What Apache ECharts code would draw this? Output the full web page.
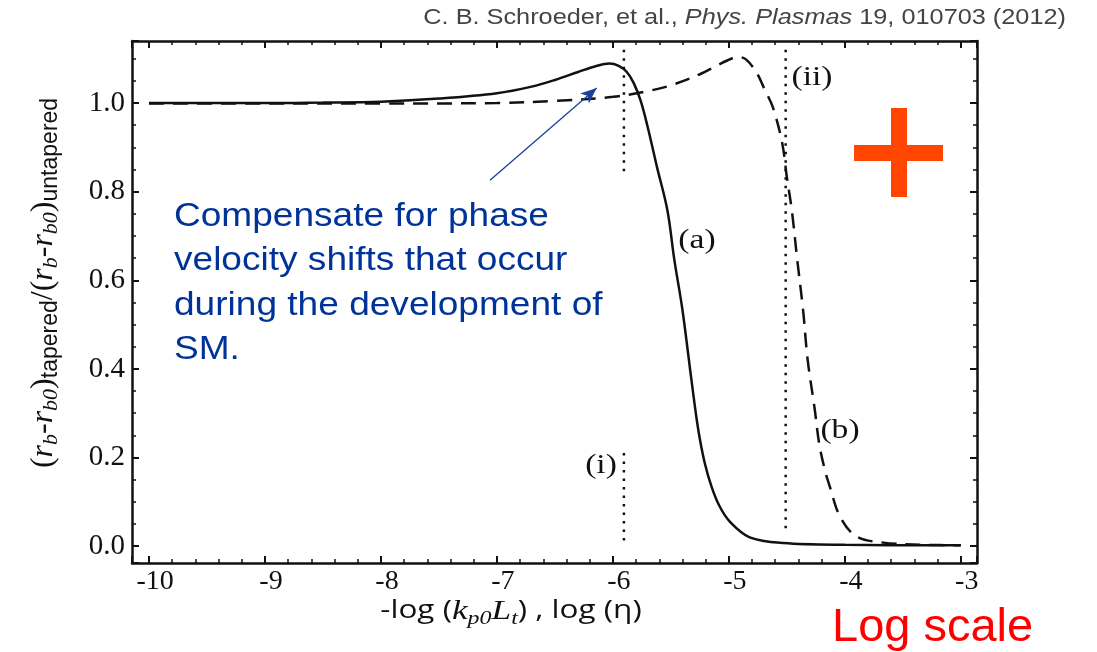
<!DOCTYPE html>
<html>
<head>
<meta charset="utf-8">
<title>tapered / untapered</title>
<script src="https://cdn.jsdelivr.net/npm/echarts@6/dist/echarts.min.js"></script>
<style>
  html, body { margin: 0; padding: 0; background: #fff; }
  #chart { width: 1097px; height: 652px; }
</style>
</head>
<body>
<div id="chart"></div>
<script>
// curve (a): solid, -log(kp0 Lt)
const curveA = [
  [-10.0, 1.0], [-9.0, 1.0], [-8.5, 1.001], [-8.0, 1.003], [-7.5, 1.01],
  [-7.0, 1.022], [-6.7, 1.037], [-6.5, 1.052], [-6.3, 1.07], [-6.15, 1.083],
  [-6.03, 1.089], [-5.95, 1.084], [-5.88, 1.07], [-5.82, 1.045], [-5.76, 1.005],
  [-5.70, 0.946], [-5.62, 0.856], [-5.53, 0.758], [-5.47, 0.646], [-5.40, 0.533],
  [-5.32, 0.37], [-5.265, 0.265], [-5.21, 0.19], [-5.15, 0.135], [-5.08, 0.09],
  [-4.99, 0.055], [-4.82, 0.02], [-4.53, 0.007], [-4.0, 0.003], [-3.0, 0.002]
]
// curve (b): dashed, log(eta)
const curveB = [
  [-10.0, 0.999], [-9.0, 0.999], [-8.0, 0.999], [-7.0, 1.0], [-6.5, 1.005],
  [-6.0, 1.014], [-5.7, 1.027], [-5.5, 1.04], [-5.25, 1.065], [-5.1, 1.085],
  [-4.98, 1.1], [-4.92, 1.104], [-4.85, 1.098], [-4.76, 1.068], [-4.69, 1.03],
  [-4.62, 0.99], [-4.54, 0.91], [-4.50, 0.833], [-4.457, 0.758], [-4.41, 0.646],
  [-4.36, 0.533], [-4.32, 0.42], [-4.26, 0.31], [-4.22, 0.23], [-4.17, 0.17],
  [-4.13, 0.135], [-4.04, 0.066], [-3.9, 0.022], [-3.67, 0.008], [-3.3, 0.003],
  [-3.0, 0.002]
]
// dotted guides (i) and (ii)
const guideI_top = [[-5.905, 1.12], [-5.905, 0.845]]
const guideI_bottom = [[-5.905, 0.21], [-5.905, 0.0]]
const guideII = [[-4.51, 1.12], [-4.51, 0.03]]

// annotation arrow (data coords)
const arrowFrom = [-7.06, 0.826]
const arrowTo = [-6.14, 1.034]

const X_MIN = -10.147, X_MAX = -2.86
const Y_MIN = -0.038, Y_MAX = 1.14

const serif = '"Liberation Serif", "DejaVu Serif", serif'
const sans = '"Liberation Sans", Arial, sans-serif'
const ink = '#111'

function xAxisOf (position, showLabel) {
  return {
    type: 'value', position: position, min: X_MIN, max: X_MAX, splitNumber: 7,
    axisLine: { show: true, onZero: false, lineStyle: { color: ink, width: 2.5 } },
    axisTick: { show: true, inside: true, length: 7, lineStyle: { color: ink, width: 2 } },
    minorTick: { show: true, splitNumber: 5, length: 4, lineStyle: { color: ink, width: 1.5 } },
    splitLine: { show: false },
    axisLabel: {
      show: showLabel, showMinLabel: false, showMaxLabel: false,
      fontFamily: serif, fontSize: 28, color: ink, margin: 5, padding: [0, 0, 0, 12],
      formatter: v => String(Math.round(v))
    }
  }
}

function yAxisOf (position, showLabel) {
  return {
    type: 'value', position: position, min: Y_MIN, max: Y_MAX, splitNumber: 6,
    axisLine: { show: true, onZero: false, lineStyle: { color: ink, width: 2.5 } },
    axisTick: { show: true, inside: true, length: 7, lineStyle: { color: ink, width: 2 } },
    minorTick: { show: true, splitNumber: 4, length: 4, lineStyle: { color: ink, width: 1.5 } },
    splitLine: { show: false },
    axisLabel: {
      show: showLabel, showMinLabel: false, showMaxLabel: false,
      fontFamily: serif, fontSize: 29, color: ink, margin: 7,
      formatter: v => v.toFixed(1)
    }
  }
}

function guide (data) {
  return {
    type: 'line', data: data, symbol: 'none', silent: true,
    lineStyle: { color: ink, width: 2.5, type: [2.5, 6] }
  }
}

function label (text, x, y) {
  return {
    type: 'text', x: x, y: y, scaleX: 1.2,
    style: { text: text, fontFamily: serif, fontSize: 28, fill: ink, align: 'center', verticalAlign: 'middle' }
  }
}

const chart = echarts.init(document.getElementById('chart'))
chart.setOption({
  animation: false,
  backgroundColor: '#fff',
  grid: { left: 132, right: 120, top: 41, bottom: 89, outerBoundsMode: 'none' },
  xAxis: [xAxisOf('bottom', true), xAxisOf('top', false)],
  yAxis: [yAxisOf('left', true), yAxisOf('right', false)],
  series: [
    {
      name: '(a)', type: 'line', data: curveA, symbol: 'none', smooth: 0.35,
      lineStyle: { color: ink, width: 2.5 },
      markLine: {
        silent: true, symbol: ['none', 'arrow'], symbolSize: [10, 16],
        lineStyle: { color: '#1c3f9a', width: 1.3, type: 'solid' },
        label: { show: false },
        data: [[{ coord: arrowFrom }, { coord: arrowTo }]]
      }
    },
    {
      name: '(b)', type: 'line', data: curveB, symbol: 'none', smooth: 0.35,
      lineStyle: { color: ink, width: 2.5, type: [15, 9] }
    },
    guide(guideI_top),
    guide(guideI_bottom),
    guide(guideII)
  ],
  graphic: [
    {
      type: 'text', x: 1066, y: 18, scaleX: 1.15,
      style: {
        text: '{n|C. B. Schroeder, et al., }{i|Phys. Plasmas}{n| 19, 010703 (2012)}',
        align: 'right', verticalAlign: 'middle',
        rich: {
          n: { fontFamily: sans, fontSize: 22, fill: '#444' },
          i: { fontFamily: sans, fontSize: 22, fontStyle: 'italic', fill: '#444' }
        }
      }
    },
    {
      type: 'text', x: 174, y: 194, scaleX: 1.09,
      style: {
        text: 'Compensate for phase\nvelocity shifts that occur\nduring the development of\nSM.',
        fontFamily: sans, fontSize: 34, lineHeight: 44.5, fill: '#003399',
        align: 'left', verticalAlign: 'top'
      }
    },
    { type: 'rect', shape: { x: 854, y: 145, width: 89, height: 16 }, style: { fill: '#ff4500' } },
    { type: 'rect', shape: { x: 891, y: 108, width: 16, height: 89 }, style: { fill: '#ff4500' } },
    {
      type: 'text', x: 832, y: 628,
      style: { text: 'Log scale', fontFamily: sans, fontSize: 47, fill: '#ff0000', align: 'left', verticalAlign: 'middle' }
    },
    label('(a)', 697, 241),
    label('(b)', 840, 431),
    label('(i)', 601, 466),
    label('(ii)', 812, 78),
    {
      // x axis name
      type: 'text', x: 511, y: 613, scaleX: 1.26,
      style: {
        text: '{n|-log (}{it|k}{sb|p0}{it|L}{sb|t}{n|) , log (η)}',
        align: 'center', verticalAlign: 'middle',
        rich: {
          n: { fontFamily: '"Open Sans", "Noto Sans", sans-serif', fontSize: 25, lineHeight: 30, verticalAlign: 'top', fill: ink },
          it: { fontFamily: serif, fontStyle: 'italic', fontSize: 28, lineHeight: 30, verticalAlign: 'top', fill: ink },
          sb: { fontFamily: serif, fontStyle: 'italic', fontSize: 19, lineHeight: 19, padding: [20, 0, 0, 0], verticalAlign: 'bottom', fill: ink }
        }
      }
    },
    {
      // y axis name
      type: 'text', x: 45, y: 283, rotation: Math.PI / 2,
      style: {
        text: '{p|(}{it|r}{sb|b}{p|-}{it|r}{sb|b0}{p|)}{ss|tapered}{p|/(}{it|r}{sb|b}{p|-}{it|r}{sb|b0}{p|)}{ss|untapered}',
        align: 'center', verticalAlign: 'middle',
        rich: {
          p: { fontFamily: serif, fontSize: 32, lineHeight: 34, verticalAlign: 'top', fill: ink },
          it: { fontFamily: serif, fontStyle: 'italic', fontSize: 32, lineHeight: 34, verticalAlign: 'top', fill: ink },
          sb: { fontFamily: serif, fontStyle: 'italic', fontSize: 22, lineHeight: 22, padding: [20, 0, 0, 0], verticalAlign: 'bottom', fill: ink },
          ss: { fontFamily: sans, fontSize: 23, lineHeight: 23, padding: [19, 0, 0, 0], verticalAlign: 'bottom', fill: ink }
        }
      }
    }
  ]
})
</script>
</body>
</html>
